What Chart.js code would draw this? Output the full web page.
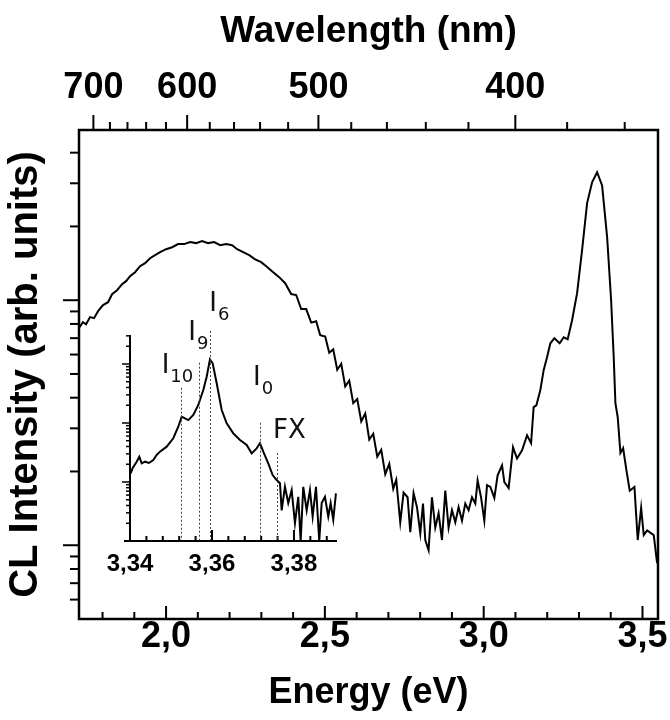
<!DOCTYPE html>
<html>
<head>
<meta charset="utf-8">
<title>CL spectrum</title>
<script src="https://cdn.jsdelivr.net/npm/chart.js@4.4.0/dist/chart.umd.min.js"></script>
<style>
    html, body { margin: 0; padding: 0; background: #fff; }
    #wrap { position: relative; width: 670px; height: 720px; }
    #mainChart { position: absolute; left: 0; top: 0; }
    #insetChart { position: absolute; left: 90px; top: 280px; }
</style>
</head>
<body>
<div id="wrap">
    <canvas id="mainChart" width="670" height="720"></canvas>
    <canvas id="insetChart" width="260" height="300"></canvas>
</div>
<script>
// CL spectrum (log intensity vs energy) with an inset of the near band-edge lines

const HC = 1239.84; // eV*nm, energy <-> wavelength

// --- main spectrum ---
const energy = [
    1.7276, 1.7386, 1.7481, 1.7607, 1.7733, 1.7859, 1.8016, 1.8174, 1.8300, 1.8457,
    1.8615, 1.8741, 1.8867, 1.9024, 1.9182, 1.9339, 1.9497, 1.9654, 1.9812, 2.0001,
    2.0190, 2.0379, 2.0568, 2.0757, 2.0946, 2.1135, 2.1324, 2.1513, 2.1702, 2.1891,
    2.2080, 2.2238, 2.2427, 2.2616, 2.2805, 2.2994, 2.3183, 2.3372, 2.3561, 2.3750,
    2.3939, 2.4097, 2.4254, 2.4412, 2.4570, 2.4727, 2.4853, 2.5011, 2.5137, 2.5263,
    2.5389, 2.5515, 2.5641, 2.5767, 2.5893, 2.6019, 2.6145, 2.6271, 2.6397, 2.6523,
    2.6649, 2.6775, 2.6901, 2.7027, 2.7153, 2.7247, 2.7373, 2.7478, 2.7604, 2.7689,
    2.7793, 2.7900, 2.8004, 2.8089, 2.8161, 2.8265, 2.8372, 2.8476, 2.8580, 2.8687,
    2.8791, 2.8895, 2.9002, 2.9106, 2.9210, 2.9317, 2.9421, 2.9525, 2.9632, 2.9736,
    2.9809, 2.9916, 3.0020, 3.0105, 3.0209, 3.0335, 3.0439, 3.0578, 3.0650, 3.0786,
    3.0924, 3.1050, 3.1208, 3.1366, 3.1492, 3.1573, 3.1658, 3.1784, 3.1888, 3.1995,
    3.2099, 3.2225, 3.2393, 3.2519, 3.2644, 3.2783, 3.2941, 3.3098, 3.3256, 3.3413,
    3.3571, 3.3728, 3.3886, 3.4012, 3.4094, 3.4147, 3.4220, 3.4305, 3.4390, 3.4494,
    3.4598, 3.4746, 3.4850, 3.4957, 3.5039, 3.5146, 3.5354, 3.5460
];
const intensity = [
    7.76, 8.13, 7.98, 8.53, 8.45, 9.02, 9.55, 9.81, 10.58, 10.98,
    11.62, 11.96, 12.53, 13.01, 13.77, 14.16, 14.84, 15.27, 15.71, 16.15,
    16.45, 16.94, 16.94, 17.26, 17.10, 17.42, 17.10, 17.26, 16.76, 16.94,
    16.76, 16.15, 15.71, 15.27, 14.69, 14.29, 13.65, 13.01, 12.42, 11.73,
    10.6, 10.5, 9.2, 9.2, 8.1, 8.2, 7.2, 7.1, 6.1, 6.3,
    5.2, 5.5, 4.45, 4.7, 3.8, 3.95, 3.2, 3.45, 2.7, 2.85,
    2.3, 2.45, 1.95, 2.15, 1.7, 1.85, 1.24, 1.64, 1.57, 1.13,
    1.63, 1.43, 1.12, 1.48, 1.05, 0.955, 1.57, 1.18, 1.35, 1.05,
    1.67, 1.18, 1.39, 1.24, 1.43, 1.26, 1.48, 1.39, 1.57, 1.48,
    1.84, 1.57, 1.26, 1.76, 1.73, 1.56, 1.93, 2.12, 1.81, 1.71,
    2.51, 2.26, 2.44, 2.81, 2.61, 3.66, 3.72, 4.30, 5.18, 5.85,
    6.67, 7.00, 6.67, 7.06, 6.93, 8.28, 10.68, 16.00, 24.9, 30.3,
    33.3, 29.4, 18.1, 10.0, 5.85, 3.80, 3.33, 2.38, 2.49, 2.02,
    1.67, 1.73, 1.05, 1.42, 1.10, 1.15, 1.10, 0.845
];

const energyMajor = [2.0, 2.5, 3.0, 3.5];
const energyMinor = [1.8, 1.9, 2.1, 2.2, 2.3, 2.4, 2.6, 2.7, 2.8, 2.9, 3.1, 3.2, 3.3, 3.4];
const wavelengthMajor = [700, 600, 500, 400];
const wavelengthMinor = [680, 660, 640, 620, 580, 560, 540, 520, 480, 460, 440, 420, 380, 360];
const intensityMajor = [1, 10];
const intensityMinor = [0.6, 0.7, 0.8, 0.9, 2, 3, 4, 5, 6, 7, 8, 9, 20, 30, 40];

// --- inset: near band-edge region ---
const insetEnergy = [
    3.34017, 3.34066, 3.34163, 3.34227, 3.34285, 3.34366, 3.34463, 3.34568, 3.34651, 3.34732,
    3.34895, 3.35056, 3.35178, 3.35261, 3.35341, 3.35422, 3.35544, 3.35666, 3.35788, 3.35871,
    3.35951, 3.36017, 3.36115, 3.36237, 3.36359, 3.3652, 3.36683, 3.36846, 3.36968, 3.3709,
    3.37171, 3.37251, 3.37373, 3.3748, 3.37578, 3.37659, 3.377, 3.3778, 3.37861, 3.37944,
    3.38024, 3.38105, 3.38163, 3.38227, 3.3831, 3.3839, 3.38456, 3.38537, 3.38617, 3.38676,
    3.38756, 3.38837, 3.38895, 3.38959, 3.39024
];
const insetIntensity = [
    14.0, 17.3, 22.1, 26.8, 20.7, 22.1, 21.0, 23.6, 28.7, 32.7,
    39.7, 55.1, 86.5, 128, 120, 112, 137, 202, 362, 609,
    1202, 1028, 471, 166, 98.9, 66.8, 51.5, 42.4, 30.6, 37.2,
    45.3, 32.7, 20.7, 13.1, 10.8, 9.5, 3.3, 8.3, 4.4, 7.3,
    2.0, 5.6, 1.0, 8.3, 3.3, 7.3, 2.6, 8.3, 1.0, 4.4,
    5.6, 2.6, 4.4, 2.3, 6.4
];
const insetEnergyMajor = [3.34, 3.36, 3.38];
const insetEnergyMinor = [3.344, 3.348, 3.352, 3.356, 3.364, 3.368, 3.372, 3.376, 3.384, 3.388];
const insetIntensityMajor = [10, 100, 1000];
const insetIntensityMinor = [2, 3, 4, 5, 6, 7, 8, 9, 20, 30, 40, 50, 60, 70, 80, 90,
    200, 300, 400, 500, 600, 700, 800, 900, 2000, 3000];

// emission lines marked in the inset
const lineName = ['I', 'I', 'I', 'I', 'FX'];
const lineSub = ['10', '9', '6', '0', ''];
const lineEnergy = [3.35244, 3.35683, 3.35951, 3.37171, 3.37585];
const lineTop = [396, 1052, 3622, 101, 31];
const labelEnergy = [3.34773, 3.35422, 3.35934, 3.3700, 3.37488];
const labelIntensity = [704, 2552, 8007, 441, 55.7];

Chart.defaults.font.family = "'Liberation Sans', Arial, sans-serif";
Chart.defaults.color = '#000';

function fmtComma(v, digits) {
    return v.toFixed(digits).replace('.', ',');
}

function strokeLine(ctx, x1, y1, x2, y2) {
    ctx.beginPath();
    ctx.moveTo(x1, y1);
    ctx.lineTo(x2, y2);
    ctx.stroke();
}

// frame + tick marks of the main plot (top axis ticks are wavelengths)
const mainFrame = {
    id: 'mainFrame',
    afterDatasetsDraw(chart) {
        const { ctx, chartArea: a } = chart;
        const x = chart.scales.x, y = chart.scales.y;
        ctx.save();
        ctx.strokeStyle = '#000';
        ctx.lineWidth = 2;
        energyMajor.forEach(v => { const p = x.getPixelForValue(v); strokeLine(ctx, p, a.bottom, p, a.bottom - 13); });
        energyMinor.forEach(v => { const p = x.getPixelForValue(v); strokeLine(ctx, p, a.bottom, p, a.bottom - 7); });
        wavelengthMajor.forEach(w => { const p = x.getPixelForValue(HC / w); strokeLine(ctx, p, a.top, p, a.top - 15); });
        wavelengthMinor.forEach(w => { const p = x.getPixelForValue(HC / w); strokeLine(ctx, p, a.top, p, a.top - 8); });
        intensityMajor.forEach(v => { const p = y.getPixelForValue(v); strokeLine(ctx, a.left, p, a.left - 16, p); });
        intensityMinor.forEach(v => { const p = y.getPixelForValue(v); strokeLine(ctx, a.left, p, a.left - 9, p); });
        ctx.lineWidth = 2.5;
        ctx.strokeRect(a.left, a.top, a.right - a.left, a.bottom - a.top);
        ctx.restore();
    }
};

const mainChart = new Chart(document.getElementById('mainChart'), {
    type: 'line',
    data: {
        datasets: [{
            data: energy.map((e, i) => ({ x: e, y: intensity[i] })),
            borderColor: '#000',
            borderWidth: 2,
            pointRadius: 0,
            tension: 0
        }]
    },
    options: {
        responsive: false,
        animation: false,
        events: [],
        layout: { padding: { top: 0, right: 12, bottom: 0, left: 0 } },
        plugins: { legend: { display: false }, tooltip: { enabled: false } },
        scales: {
            x: {
                type: 'linear',
                position: 'bottom',
                min: 1.7259,
                max: 3.5488,
                afterFit: s => { s.height = 101; },
                afterBuildTicks: s => { s.ticks = energyMajor.map(v => ({ value: v })); },
                grid: { display: false, drawTicks: false },
                border: { display: false },
                ticks: {
                    callback: v => fmtComma(v, 1),
                    font: { size: 36, weight: 'bold', lineHeight: 1 },
                    padding: 0,
                    maxRotation: 0,
                    autoSkip: false
                },
                title: {
                    display: true,
                    text: 'Energy (eV)',
                    font: { size: 36, weight: 'bold' },
                    padding: { top: 0, bottom: 5 }
                }
            },
            x2: {
                type: 'linear',
                position: 'top',
                min: 1.7259,
                max: 3.5488,
                afterFit: s => { s.height = 130; },
                afterBuildTicks: s => { s.ticks = wavelengthMajor.map(w => ({ value: HC / w })); },
                grid: { display: false, drawTicks: false },
                border: { display: false },
                ticks: {
                    callback: v => Math.round(HC / v),
                    font: { size: 36, weight: 'bold', lineHeight: 1 },
                    padding: 24,
                    maxRotation: 0,
                    autoSkip: false
                },
                title: {
                    display: true,
                    text: 'Wavelength (nm)',
                    font: { size: 37, weight: 'bold' },
                    padding: { top: 10, bottom: 0 }
                }
            },
            y: {
                type: 'logarithmic',
                position: 'left',
                min: 0.5,
                max: 49.5,
                afterFit: s => { s.width = 79; },
                grid: { display: false, drawTicks: false },
                border: { display: false },
                ticks: { display: false },
                title: {
                    display: true,
                    text: 'CL Intensity (arb. units)',
                    font: { size: 40, weight: 'bold' },
                    padding: { top: 2, bottom: 0 }
                }
            }
        }
    },
    plugins: [mainFrame]
});

// axes, ticks, dotted line markers and their labels for the inset
const insetDecor = {
    id: 'insetDecor',
    afterDatasetsDraw(chart) {
        const { ctx, chartArea: a } = chart;
        const x = chart.scales.x, y = chart.scales.y;
        ctx.save();
        ctx.strokeStyle = '#000';
        ctx.lineWidth = 2;
        strokeLine(ctx, a.left - 6, a.bottom, a.right, a.bottom);
        strokeLine(ctx, a.left, a.top, a.left, a.bottom);
        insetEnergyMajor.forEach(v => { const p = x.getPixelForValue(v); strokeLine(ctx, p, a.bottom, p, a.bottom - 11); });
        insetEnergyMinor.forEach(v => { const p = x.getPixelForValue(v); strokeLine(ctx, p, a.bottom, p, a.bottom - 5); });
        ctx.lineWidth = 1.5;
        insetIntensityMajor.forEach(v => { const p = y.getPixelForValue(v); strokeLine(ctx, a.left, p, a.left - 8, p); });
        insetIntensityMinor.forEach(v => { const p = y.getPixelForValue(v); strokeLine(ctx, a.left, p, a.left - 4, p); });

        // dotted markers
        ctx.strokeStyle = '#444';
        ctx.lineWidth = 1;
        ctx.setLineDash([2, 2]);
        lineEnergy.forEach((e, i) => {
            const p = Math.round(x.getPixelForValue(e)) + 0.5;
            strokeLine(ctx, p, y.getPixelForValue(lineTop[i]), p, a.bottom - 1);
        });
        ctx.setLineDash([]);

        // labels
        ctx.fillStyle = '#111';
        ctx.textBaseline = 'alphabetic';
        lineName.forEach((name, i) => {
            const px = x.getPixelForValue(labelEnergy[i]);
            const py = y.getPixelForValue(labelIntensity[i]);
            ctx.font = "26px 'DejaVu Sans'";
            ctx.fillText(name, px, py);
            if (lineSub[i]) {
                const w = ctx.measureText(name).width;
                ctx.font = "18px 'DejaVu Sans'";
                ctx.fillText(lineSub[i], px + w + 1, py + 9);
            }
        });
        ctx.restore();
    }
};

const insetChart = new Chart(document.getElementById('insetChart'), {
    type: 'line',
    data: {
        datasets: [{
            data: insetEnergy.map((e, i) => ({ x: e, y: insetIntensity[i] })),
            borderColor: '#000',
            borderWidth: 2,
            pointRadius: 0,
            tension: 0,
            clip: false
        }]
    },
    options: {
        responsive: false,
        animation: false,
        events: [],
        layout: { padding: { top: 55, right: 13, bottom: 0, left: 0 } },
        plugins: { legend: { display: false }, tooltip: { enabled: false } },
        scales: {
            x: {
                type: 'linear',
                min: 3.34,
                max: 3.3905,
                afterFit: s => { s.height = 39; },
                afterBuildTicks: s => { s.ticks = insetEnergyMajor.map(v => ({ value: v })); },
                grid: { display: false, drawTicks: false },
                border: { display: false },
                ticks: {
                    callback: v => fmtComma(v, 2),
                    font: { size: 24, weight: 'bold', lineHeight: 1 },
                    padding: 11,
                    maxRotation: 0,
                    autoSkip: false
                }
            },
            y: {
                type: 'logarithmic',
                min: 1,
                max: 3100,
                afterFit: s => { s.width = 40; },
                grid: { display: false, drawTicks: false },
                border: { display: false },
                ticks: { display: false }
            }
        }
    },
    plugins: [insetDecor]
});
</script>
</body>
</html>
